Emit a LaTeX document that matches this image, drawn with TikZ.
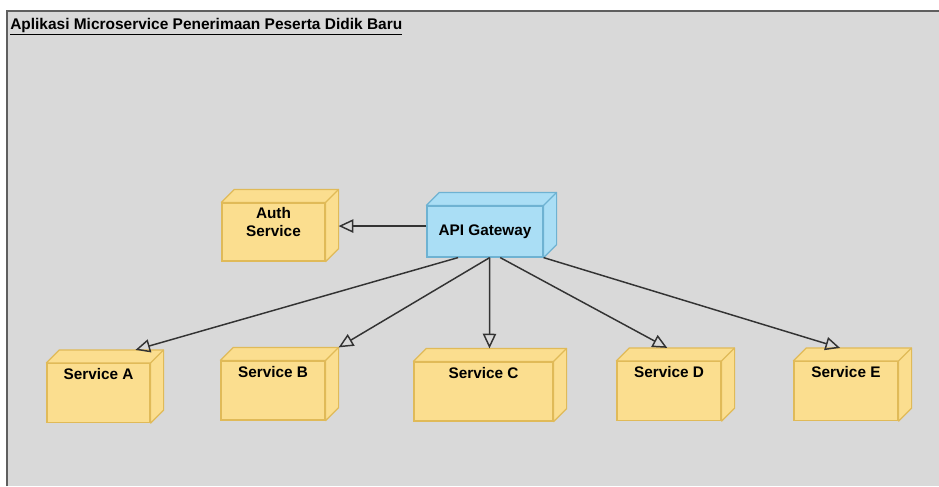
\documentclass[tikz,border=0pt]{standalone}
\usepackage{fontspec}
\setmainfont{Liberation Sans}
\usetikzlibrary{arrows.meta,calc}

\definecolor{bgGray}{RGB}{217,217,217}
\definecolor{frameGray}{RGB}{95,95,95}
\definecolor{boxFill}{RGB}{251,222,143}
\definecolor{boxLine}{RGB}{224,186,88}
\definecolor{gwFill}{RGB}{170,222,245}
\definecolor{gwLine}{RGB}{110,178,210}
\definecolor{edgeGray}{RGB}{51,51,51}

\begin{document}
\begin{tikzpicture}[x=0.75pt, y=-0.75pt,
    box/.style={draw=boxLine, fill=boxFill, line width=0.9pt, inner xsep=0pt,
                font=\bfseries\fontsize{11.5}{13}\selectfont, align=center},
    svc/.style={box, text height=8.2pt, text depth=28.05pt, inner ysep=4pt},
    edge/.style={-{Triangle[open, length=11pt, width=10pt]}, draw=edgeGray, line width=1.1pt},
    title/.style={font=\bfseries\fontsize{11.6}{13}\selectfont, inner sep=0pt}
]
\useasboundingbox (0,0) rectangle (939,486);

% frame
\fill[bgGray] (7,11) rectangle (939,486);
\draw[frameGray, line width=1.5pt] (7,486) -- (7,11) -- (939,11);
\node[title, anchor=base west] (ttl) at (10,29)
    {\underline{Aplikasi Microservice Penerimaan Peserta Didik Baru}};

% front faces
\node[box, minimum width=77.25pt, text height=21pt, text depth=15pt, inner ysep=3.75pt]
    (auth) at (273.5,232) {Auth\\Service};
\node[box, draw=gwLine, fill=gwFill, minimum width=87pt, minimum height=38.25pt]
    (gw) at (485,231.5) {API Gateway};
\node[svc, minimum width=77.25pt] (sa) at (98.5,393)  {Service A};
\node[svc, minimum width=78pt]    (sb) at (273,390.5) {Service B};
\node[svc, minimum width=104.25pt](sc) at (483.5,391.5) {Service C};
\node[svc, minimum width=78pt]    (sd) at (669,391)   {Service D};
\node[svc, minimum width=78pt]    (se) at (846,391)   {Service E};

% top and side faces
\foreach \n/\f/\d in {auth/boxFill/boxLine, gw/gwFill/gwLine, sa/boxFill/boxLine,
                      sb/boxFill/boxLine, sc/boxFill/boxLine, sd/boxFill/boxLine,
                      se/boxFill/boxLine} {
  \coordinate (\n-bnw) at ($(\n.north west)+(13,-13)$);
  \coordinate (\n-bne) at ($(\n.north east)+(13,-13)$);
  \coordinate (\n-bse) at ($(\n.south east)+(13,-13)$);
  \draw[fill=\f, draw=\d, line width=0.9pt, line join=round]
    (\n.north west) -- (\n-bnw) -- (\n-bne) -- (\n-bse) -- (\n.south east)
    -- (\n.north east) -- cycle;
  \draw[draw=\d, line width=0.9pt] (\n.north east) -- (\n-bne);
}

% connectors
\draw[edge] ([yshift=4.1pt]gw.west) -- ([yshift=4.1pt]gw.west -| auth-bne);
\draw[edge] ($(gw.south west)!0.27!(gw.south east)$) -- ($(sa-bnw)!0.73!(sa-bne)$);
\draw[edge] ($(gw.south west)!0.54!(gw.south east)$) -- ($(sb-bnw)!1.0!(sb-bne)$);
\draw[edge] ($(gw.south west)!0.54!(gw.south east)$) -- ($(sc-bnw)!0.45!(sc-bne)$);
\draw[edge] ($(gw.south west)!0.63!(gw.south east)$) -- ($(sd-bnw)!0.36!(sd-bne)$);
\draw[edge] (gw.south east) -- ($(se-bnw)!0.32!(se-bne)$);

\end{tikzpicture}
\end{document}
